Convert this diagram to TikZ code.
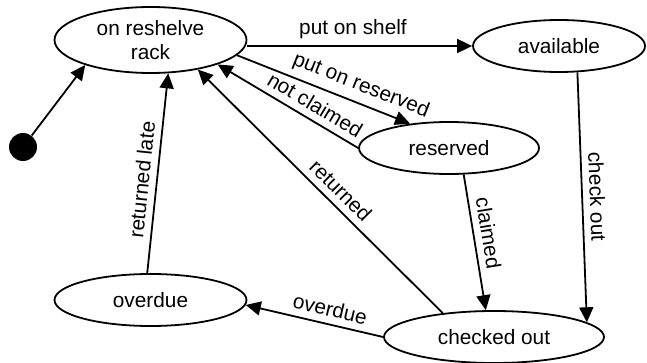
\documentclass[tikz,border=0pt]{standalone}
\usepackage{fontspec}
\setmainfont{Liberation Sans}
\usetikzlibrary{arrows.meta,shapes.geometric}
\begin{document}
\begin{tikzpicture}[x=0.5pt,y=-0.5pt,
  every node/.style={font=\fontsize{10.4}{12}\selectfont},
  state/.style={ellipse,draw,line width=0.9pt,inner sep=0pt,align=center},
  arr/.style={line width=0.9pt,-{Triangle[length=7.5pt,width=7pt]}},
  lbl/.style={above,sloped}]
\useasboundingbox (0,0) rectangle (647,363);
\node[state,minimum width=96pt,minimum height=33pt] (rack) at (150.5,40) {on reshelve\\rack};
\node[state,minimum width=86pt,minimum height=26pt] (available) at (559,46) {available};
\node[state,minimum width=90pt,minimum height=26pt] (reserved) at (449,148) {reserved};
\node[state,minimum width=96pt,minimum height=26pt] (overdue) at (150.5,300) {overdue};
\node[state,minimum width=110pt,minimum height=26pt] (checked) at (494,337) {checked out};
\node[circle,fill=black,minimum size=14pt,inner sep=0pt] (init) at (23,147) {};

\draw[arr] (init) -- (rack.201);
\draw[arr] (rack.east |- available.west) -- node[above,pos=0.47] {put on shelf} (available.west);
\draw[arr] (rack.-10) -- node[lbl,pos=0.68] {put on reserved} (reserved.148);
\draw[arr] (reserved.west) -- node[lbl,pos=0.36] {not claimed} (rack.-20);
\draw[arr] (checked.155) -- node[lbl,pos=0.46] {returned} (rack.-32);
\draw[arr] (overdue.97) -- node[lbl,pos=0.46] {returned late} (rack.-62);
\draw[arr] (reserved.-61) -- node[lbl,pos=0.45] {claimed} (checked.107);
\draw[arr] (available.-55) -- node[lbl,pos=0.5] {check out} (checked.9);
\draw[arr] (checked.west) -- node[lbl,pos=0.41] {overdue} (overdue.-3);
\end{tikzpicture}
\end{document}
